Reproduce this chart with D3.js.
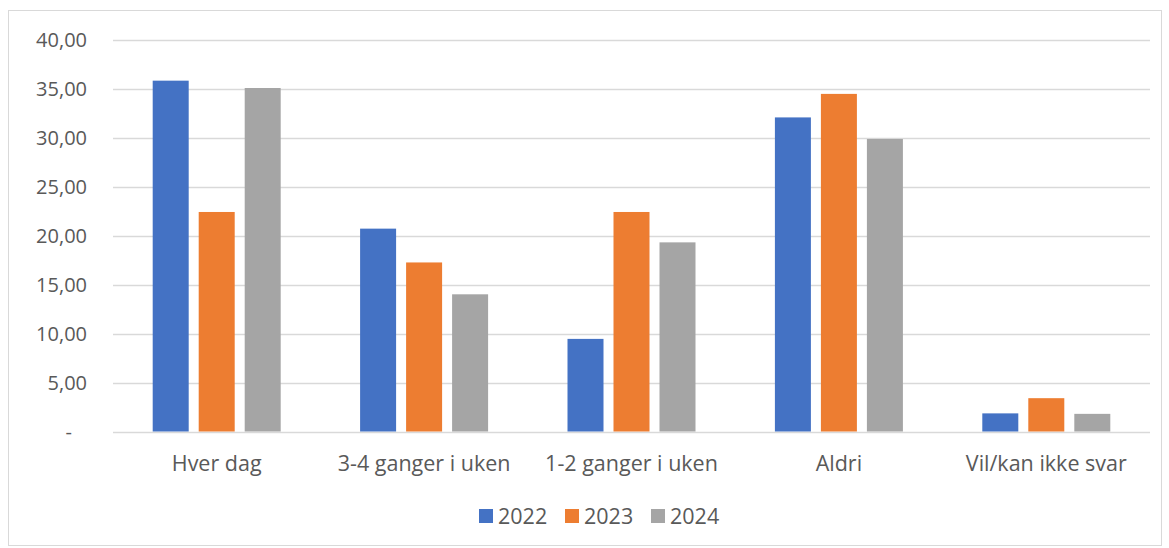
<!DOCTYPE html>
<html><head><meta charset="utf-8">
<script src="https://cdn.jsdelivr.net/npm/d3@7"></script>
<style>body{margin:0;background:#fff;}svg{display:block;}</style>
</head><body>
<svg id="c" width="1169" height="548"></svg>
<script>
const categories = ["Hver dag", "3-4 ganger i uken", "1-2 ganger i uken", "Aldri", "Vil/kan ikke svar"];
const seriesNames = ["2022", "2023", "2024"];
const values2022 = [35.8, 20.7, 9.45, 32.05, 1.85];
const values2023 = [22.4, 17.25, 22.4, 34.45, 3.4];
const values2024 = [35.05, 14.0, 19.3, 29.85, 1.8];
const colors = ["#4472C4", "#ED7D31", "#A5A5A5"];
const yTicks = [0, 5, 10, 15, 20, 25, 30, 35, 40];

(function () {
const series = [values2022, values2023, values2024];
const svg = d3.select("#c");
const font = "'Open Sans', Lato, sans-serif";
const textColor = "#595959";

svg.append("rect").attr("x", 8.5).attr("y", 10.5).attr("width", 1153).attr("height", 535)
  .attr("fill", "#fff").attr("stroke", "#d9d9d9").attr("stroke-width", 1);

const pLeft = 113, pRight = 1150, pTop = 39.5, pBottom = 431.5;
const x = d3.scaleBand().domain(categories).range([pLeft, pRight]).paddingInner(0).paddingOuter(0);
const y = d3.scaleLinear().domain([0, 40]).range([pBottom, pTop]);
const barW = 36, gap = 10;

svg.append("g").selectAll("line").data(yTicks).join("line")
  .attr("x1", pLeft).attr("x2", pRight)
  .attr("y1", d => Math.round(y(d)) + 0.5).attr("y2", d => Math.round(y(d)) + 0.5)
  .attr("stroke", "#d9d9d9").attr("stroke-width", 1.3);

const fmt = d => d === 0 ? "-" : d3.format(".2f")(d).replace(".", ",");
svg.append("g").selectAll("text").data(yTicks).join("text")
  .attr("x", d => d === 0 ? 72 : 87).attr("y", d => y(d)).attr("dy", "0.35em")
  .attr("text-anchor", "end").attr("font-family", font).attr("font-size", 20)
  .attr("fill", textColor).text(fmt);

const groupW = barW * 3 + gap * 2;
series.forEach((vals, si) => {
  svg.append("g").selectAll("rect").data(vals).join("rect")
    .attr("x", (d, i) => x(categories[i]) + x.bandwidth() / 2 - groupW / 2 + si * (barW + gap))
    .attr("y", d => y(d))
    .attr("width", barW)
    .attr("height", d => y(0) - y(d))
    .attr("fill", colors[si]);
});

svg.append("g").selectAll("text").data(categories).join("text")
  .attr("x", d => x(d) + x.bandwidth() / 2).attr("y", 471)
  .attr("text-anchor", "middle").attr("font-family", font).attr("font-size", 21.5)
  .attr("fill", textColor).text(d => d);

const legX = [479, 565, 651];
const lg = svg.append("g").selectAll("g").data(seriesNames).join("g")
  .attr("transform", (d, i) => `translate(${legX[i]},509)`);
lg.append("rect").attr("width", 14).attr("height", 14).attr("fill", (d, i) => colors[i]);
lg.append("text").attr("x", 19).attr("y", 7).attr("dy", "0.36em")
  .attr("font-family", font).attr("font-size", 21.5).attr("fill", textColor).text(d => d);
})();
</script>
</body></html>
